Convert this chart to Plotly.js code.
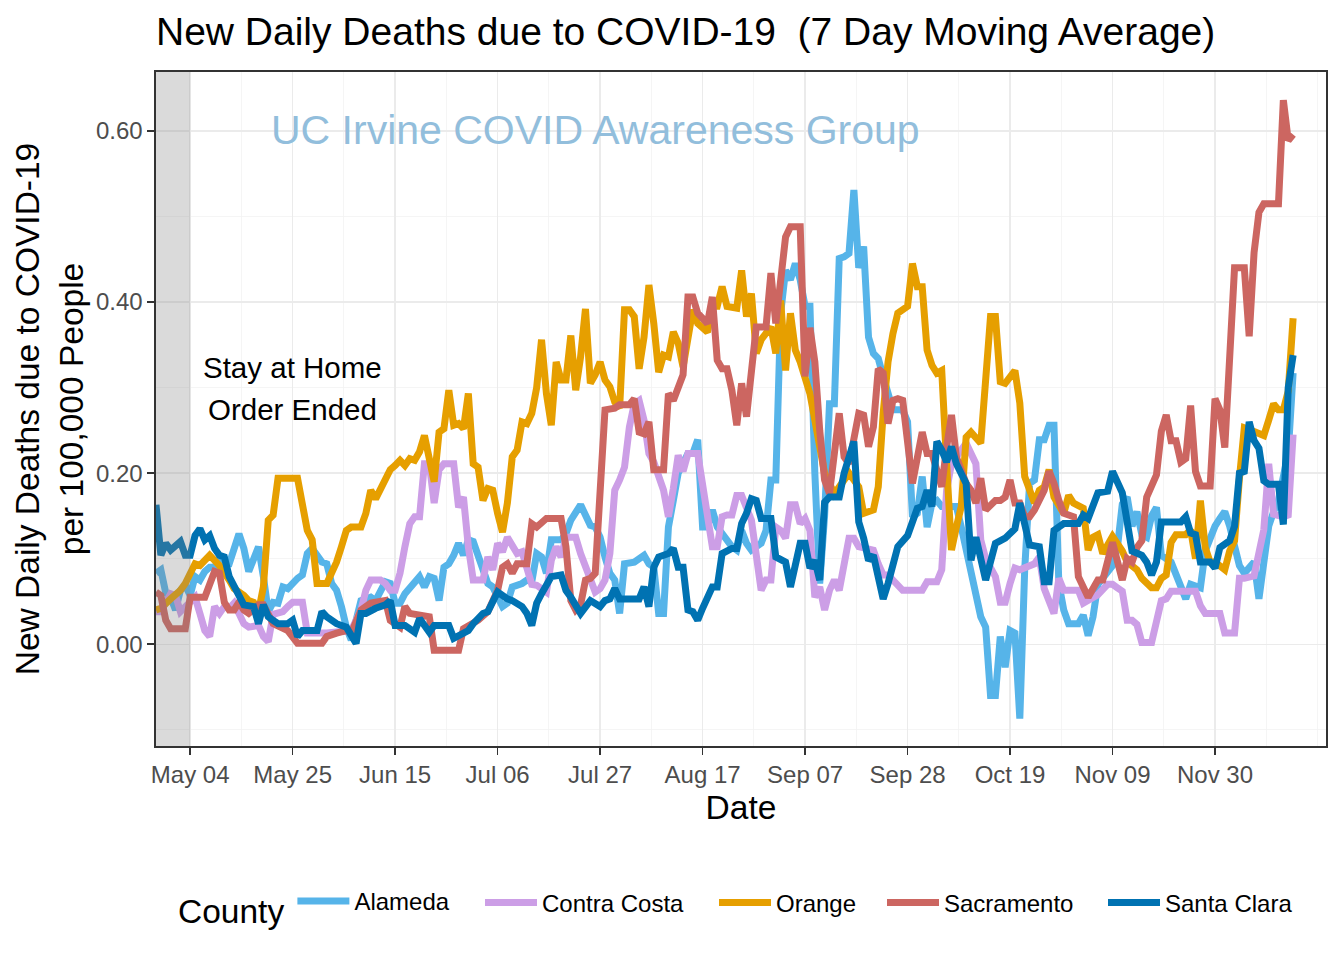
<!DOCTYPE html>
<html>
<head>
<meta charset="utf-8">
<script src="https://cdn.plot.ly/plotly-3.0.1.min.js"></script>
<style>
html,body{margin:0;padding:0;background:#ffffff;}
#chart{width:1344px;height:960px;}
</style>
</head>
<body>
<div id="chart"></div>
<script>
// ---- data (day offsets from 2020-04-27, 7-day moving average deaths per 100k) ----
const startDate = '2020-04-27';
const counties = ['Alameda', 'Contra Costa', 'Orange', 'Sacramento', 'Santa Clara'];
const countyColors = ['#56B4E9', '#CC9EE6', '#E69F00', '#CC6661', '#0072B2'];
const xTickVals = ['2020-05-04', '2020-05-25', '2020-06-15', '2020-07-06', '2020-07-27', '2020-08-17', '2020-09-07', '2020-09-28', '2020-10-19', '2020-11-09', '2020-11-30'];
const yTickVals = [0, 0.2, 0.4, 0.6];

const alamedaDays = [0,1,2,3,4,5,6,7,8,9,10,11,12,13,14,15,17,18,19,20,21,22,23,24,25,26,27,29,30,31,32,34,35,36,37,38,39,40,41,42,44,45,47,48,49,50,51,53,54,55,56,57,58,59,60,61,62,63,64,65,66,68,69,71,72,73,75,76,77,78,79,80,81,83,84,85,87,88,89,90,91,92,93,94,95,96,97,98,100,101,102,103,104,105,106,107,109,110,111,112,113,114,115,116,118,119,120,121,122,123,124,125,126,127,128,129,130,131,132,133,134,135,136,137,138,139,140,141,142,143,144,145,146,147,148,149,150,151,153,154,155,156,157,158,159,160,161,164,165,166,167,168,169,170,171,172,173,174,175,176,177,178,179,180,181,182,183,184,185,186,187,189,190,191,192,193,195,196,197,198,199,200,201,202,203,204,205,206,208,209,211,212,214,215,216,217,218,219,220,221,222,223,225,226,227,228,229,230,232,233];
const alamedaVals = [.083,.087,.060,.055,.040,.063,.069,.057,.079,.075,.085,.090,.090,.100,.094,.094,.129,.112,.085,.098,.114,.079,.038,.049,.048,.067,.065,.077,.081,.106,.112,.096,.094,.071,.063,.044,.020,.005,.030,.051,.055,.051,.073,.071,.048,.048,.059,.071,.079,.067,.079,.077,.051,.090,.094,.104,.118,.104,.122,.120,.104,.071,.067,.044,.048,.067,.071,.075,.073,.106,.102,.083,.122,.122,.129,.145,.163,.149,.139,.137,.125,.102,.083,.075,.036,.094,.096,.096,.104,.094,.090,.036,.036,.137,.168,.200,.223,.223,.239,.137,.137,.157,.137,.129,.114,.110,.133,.118,.110,.114,.118,.133,.192,.192,.387,.437,.426,.445,.426,.395,.395,.200,.071,.150,.281,.281,.451,.453,.457,.531,.440,.465,.359,.340,.334,.313,.293,.274,.274,.260,.149,.153,.196,.137,.165,.168,.161,.161,.137,.110,.079,.055,.032,.020,-.060,-.060,.009,-.027,.016,.013,-.087,.087,.188,.192,.239,.239,.256,.256,.071,.040,.024,.024,.034,.010,.032,.070,.087,.092,.113,.164,.172,.138,.155,.128,.125,.150,.160,.104,.096,.083,.053,.070,.066,.109,.126,.138,.147,.155,.138,.113,.092,.083,.096,.053,.104,.138,.155,.168,.224,.317];

const contraCostaDays = [0,1,3,4,5,7,8,9,10,11,12,13,14,15,16,17,18,19,21,22,23,24,26,27,28,30,31,35,38,40,42,43,44,46,47,48,49,50,51,52,53,54,55,56,57,58,59,61,62,63,64,65,67,68,69,70,71,72,74,75,77,78,80,81,82,83,84,86,87,89,90,91,92,93,94,95,96,97,98,99,100,101,102,104,105,106,107,108,109,111,112,113,114,115,116,117,118,119,120,122,123,124,125,126,127,128,129,130,131,132,133,134,135,136,137,138,139,140,142,143,144,146,147,148,149,150,151,153,157,158,160,161,162,163,164,166,168,169,170,172,173,174,175,176,177,179,180,181,182,184,185,186,189,190,192,193,195,196,197,198,199,200,201,202,204,205,206,207,208,213,214,215,218,219,221,222,223,225,226,227,228,229,231,232,233];
const contraCostaVals = [.038,.038,.059,.057,.038,.049,.055,.036,.016,.009,.044,.036,.044,.042,.048,.036,.024,.020,.022,.009,.003,.035,.038,.044,.049,.049,.013,.013,.016,.016,.040,.063,.075,.075,.071,.063,.063,.083,.114,.141,.149,.149,.211,.211,.165,.204,.211,.211,.160,.172,.114,.075,.075,.102,.087,.118,.108,.125,.106,.108,.070,.069,.061,.098,.114,.102,.125,.125,.106,.075,.061,.065,.075,.106,.180,.192,.207,.254,.281,.285,.262,.223,.213,.180,.149,.182,.221,.202,.223,.223,.184,.141,.114,.114,.149,.151,.151,.174,.174,.145,.098,.063,.075,.075,.137,.133,.124,.163,.163,.141,.147,.133,.055,.067,.040,.063,.075,.063,.124,.124,.114,.110,.110,.094,.081,.081,.075,.063,.063,.073,.073,.087,.180,.211,.219,.235,.211,.122,.100,.079,.049,.049,.071,.089,.087,.092,.094,.102,.065,.036,.077,.063,.063,.048,.055,.058,.070,.070,.066,.062,.028,.028,.023,.002,.002,.028,.051,.053,.062,.062,.045,.036,.036,.013,.013,.077,.077,.080,.109,.134,.211,.152,.149,.151,.245];

const orangeDays = [0,1,3,5,6,7,8,9,10,11,12,13,15,16,18,19,20,21,22,23,24,25,29,30,31,32,33,35,36,37,38,39,40,42,43,44,45,47,48,49,50,51,52,53,54,55,56,57,58,59,60,61,62,63,64,65,66,67,68,69,70,71,72,73,74,75,76,77,78,79,80,81,82,83,84,85,86,87,88,89,90,91,92,93,94,95,96,97,98,99,100,101,102,103,104,105,106,107,108,109,110,111,112,113,114,115,116,117,119,120,121,122,123,124,126,127,128,129,130,131,132,134,135,136,137,139,142,144,145,147,148,149,150,151,152,154,155,156,157,158,159,160,161,162,163,164,165,166,167,169,170,171,172,173,174,176,177,178,180,181,182,183,184,186,187,188,190,191,192,193,194,195,196,198,199,201,202,204,205,206,207,208,209,211,212,213,214,215,216,217,219,220,221,222,223,224,226,227,228,229,230,231,232,233];
const orangeVals = [.040,.042,.053,.063,.071,.083,.094,.092,.098,.104,.098,.092,.075,.065,.057,.051,.049,.038,.067,.145,.151,.194,.194,.168,.133,.122,.071,.071,.083,.096,.114,.133,.137,.137,.153,.180,.170,.196,.204,.209,.215,.209,.217,.215,.225,.244,.215,.190,.248,.252,.297,.256,.258,.252,.293,.211,.207,.168,.182,.180,.153,.131,.165,.219,.227,.260,.258,.270,.300,.356,.293,.256,.330,.309,.309,.361,.297,.336,.392,.305,.315,.330,.309,.301,.283,.276,.391,.391,.383,.322,.359,.420,.375,.318,.338,.336,.365,.352,.324,.363,.391,.375,.371,.365,.395,.395,.418,.395,.393,.437,.383,.410,.340,.356,.371,.340,.402,.320,.387,.344,.330,.293,.262,.231,.200,.176,.200,.184,.153,.157,.184,.270,.330,.363,.387,.395,.445,.418,.418,.344,.326,.317,.320,.211,.110,.137,.161,.242,.248,.235,.313,.383,.383,.307,.305,.320,.282,.196,.165,.180,.184,.204,.172,.153,.174,.165,.159,.110,.125,.128,.106,.115,.126,.109,.096,.087,.077,.066,.066,.077,.081,.119,.128,.128,.134,.100,.168,.113,.096,.096,.087,.109,.121,.194,.253,.251,.247,.244,.262,.281,.274,.274,.296,.381];

const sacramentoDays = [0,1,2,3,6,7,10,11,12,13,14,15,16,17,18,19,21,22,24,27,29,34,35,37,39,40,42,44,47,48,50,51,52,56,57,62,63,66,68,70,71,72,73,74,76,77,78,80,83,84,85,86,87,88,89,90,91,92,94,95,97,98,99,100,101,102,104,105,106,107,108,109,110,111,113,114,115,116,117,118,119,120,121,123,125,126,127,129,130,132,133,134,135,136,137,138,139,140,141,142,143,144,145,146,147,148,149,150,151,152,153,154,155,157,158,159,161,162,163,164,165,166,167,168,169,170,172,173,174,175,176,177,178,179,180,182,183,184,185,186,187,188,189,190,191,193,194,196,197,198,199,200,201,202,203,205,206,207,208,209,210,211,212,213,214,216,217,218,219,221,223,224,225,226,227,230,231,232,233];
const sacramentoVals = [.061,.057,.028,.018,.018,.055,.055,.071,.085,.083,.049,.040,.040,.049,.040,.036,.046,.046,.024,.016,.001,.001,.009,.013,.016,.013,.040,.048,.051,.028,.020,.044,.036,.032,-.007,-.007,.018,.028,.038,.063,.090,.094,.083,.094,.094,.141,.137,.147,.147,.114,.051,.040,.046,.075,.077,.083,.176,.274,.276,.280,.280,.287,.248,.246,.260,.204,.204,.293,.285,.303,.315,.406,.406,.387,.375,.406,.332,.322,.322,.297,.256,.305,.266,.371,.371,.434,.375,.476,.488,.488,.313,.370,.330,.250,.192,.176,.227,.270,.219,.211,.240,.270,.268,.231,.254,.322,.317,.258,.285,.287,.285,.242,.188,.248,.223,.223,.184,.230,.268,.219,.200,.188,.180,.165,.194,.157,.168,.168,.172,.192,.165,.165,.149,.149,.157,.180,.202,.188,.168,.153,.151,.149,.079,.067,.055,.075,.075,.119,.094,.075,.100,.096,.113,.121,.172,.198,.249,.268,.238,.238,.213,.217,.279,.202,.185,.185,.287,.274,.230,.440,.440,.360,.458,.505,.515,.515,.636,.589,.596];

const santaClaraDays = [0,1,2,3,5,6,7,8,9,10,11,12,13,14,15,16,17,18,20,21,22,23,24,25,27,28,29,30,33,34,35,37,39,41,42,43,45,47,48,49,51,53,54,56,57,60,61,63,64,65,67,68,69,70,72,73,75,76,77,78,79,81,83,84,85,87,89,91,92,93,94,95,99,100,101,102,103,105,106,107,108,109,110,111,112,114,115,116,118,119,120,121,122,123,124,126,127,129,130,132,133,134,135,136,137,138,140,141,143,144,145,146,147,149,150,152,154,156,157,158,159,160,161,162,163,164,166,167,168,170,172,174,176,177,179,180,181,182,183,184,186,189,190,191,193,195,196,198,199,200,202,203,204,205,206,210,211,212,213,214,216,217,218,220,221,222,223,224,225,226,227,228,230,231,232,233];
const santaClaraVals = [.163,.104,.118,.110,.120,.104,.104,.127,.135,.122,.127,.112,.104,.102,.079,.067,.057,.046,.044,.024,.046,.032,.028,.024,.024,.028,.009,.016,.016,.038,.032,.024,.020,.001,.036,.036,.042,.046,.051,.022,.022,.014,.030,.014,.022,.022,.007,.013,.016,.024,.036,.038,.048,.061,.053,.051,.044,.036,.022,.048,.059,.079,.081,.063,.055,.036,.051,.044,.051,.053,.065,.053,.053,.067,.044,.090,.102,.106,.112,.090,.090,.040,.038,.028,.042,.067,.067,.106,.112,.112,.141,.153,.170,.168,.147,.147,.102,.096,.067,.118,.118,.089,.098,.075,.166,.172,.172,.200,.237,.143,.124,.098,.104,.053,.071,.114,.127,.159,.161,.180,.161,.237,.227,.213,.231,.211,.188,.098,.125,.075,.118,.124,.135,.165,.116,.114,.114,.073,.073,.133,.141,.141,.151,.147,.177,.179,.202,.177,.138,.109,.104,.096,.081,.096,.143,.143,.149,.130,.128,.096,.096,.089,.113,.121,.138,.200,.202,.260,.238,.229,.191,.187,.187,.140,.300,.338];

const seriesDays = [alamedaDays, contraCostaDays, orangeDays, sacramentoDays, santaClaraDays];
const seriesVals = [alamedaVals, contraCostaVals, orangeVals, sacramentoVals, santaClaraVals];

// ---- helpers ----
const DAY = 86400000;
const startMs = Date.parse(startDate + 'T00:00:00Z');
function toDate(d) { return new Date(startMs + d * DAY).toISOString().slice(0, 10); }

const FONT = 'Liberation Sans, Arial, Helvetica, sans-serif';
const legendIds = ['legend', 'legend2', 'legend3', 'legend4', 'legend5'];

const traces = counties.map((name, i) => ({
  type: 'scatter',
  mode: 'lines',
  name: name,
  legend: legendIds[i],
  x: seriesDays[i].map(toDate),
  y: seriesVals[i],
  line: {color: countyColors[i], width: 7},
  hoverinfo: 'skip'
}));

// legend placement (one legend per county entry, laid out in a row like the original)
const W = 1344, H = 960, PL = 156, PR = 18, PT = 72, PB = 214;
const plotW = W - PL - PR, plotH = H - PT - PB;
function px2paperX(px) { return (px - PL) / plotW; }
function px2paperY(py) { return (H - PB - py) / plotH; }
const legendBoxLeft = [176, 480, 714, 882, 1103];
const legendRowY = 903;

const layout = {
  width: W,
  height: H,
  margin: {l: PL, r: PR, t: PT, b: PB},
  paper_bgcolor: '#ffffff',
  plot_bgcolor: '#ffffff',
  font: {family: FONT, color: '#000000'},
  showlegend: true,
  title: {
    text: 'New Daily Deaths due to COVID-19\u00A0 (7 Day Moving Average)',
    font: {family: FONT, size: 39, color: '#000000'},
    xref: 'paper', x: 0, xanchor: 'left',
    yref: 'container', y: 1 - 31 / H, yanchor: 'middle'
  },
  xaxis: {
    type: 'date',
    range: ['2020-04-27', '2020-12-22 17:45'],
    tickmode: 'array',
    tickvals: xTickVals,
    tickformat: '%b %d',
    ticks: 'outside', ticklen: 7, tickwidth: 1.6, tickcolor: '#333333',
    tickfont: {family: FONT, size: 24, color: '#4D4D4D'},
    showline: true, linecolor: '#333333', linewidth: 1.6, mirror: true,
    showgrid: true, gridcolor: '#EBEBEB', gridwidth: 1.4,
    zeroline: false,
    minor: {tickmode: 'linear', dtick: 10.5 * DAY, tick0: xTickVals[0], showgrid: true, gridcolor: '#F2F2F2', gridwidth: 0.8, ticks: ''},
    title: {text: 'Date', font: {family: FONT, size: 33.5, color: '#000000'}, standoff: 8}
  },
  yaxis: {
    range: [-0.119, 0.669],
    tickmode: 'array',
    tickvals: yTickVals,
    tickformat: '.2f',
    ticks: 'outside', ticklen: 7, tickwidth: 1.6, tickcolor: '#333333',
    tickfont: {family: FONT, size: 24, color: '#4D4D4D'},
    showline: true, linecolor: '#333333', linewidth: 1.6, mirror: true,
    showgrid: true, gridcolor: '#EBEBEB', gridwidth: 1.4,
    zeroline: false,
    minor: {tickmode: 'linear', dtick: 0.1, tick0: 0, showgrid: true, gridcolor: '#F2F2F2', gridwidth: 0.8, ticks: ''},
    title: {text: 'New Daily Deaths due to COVID-19<br>per 100,000 People', font: {family: FONT, size: 33.5, color: '#000000'}, standoff: 2}
  },
  shapes: [{
    type: 'rect', xref: 'x', yref: 'paper',
    x0: '2020-04-27', x1: xTickVals[0], y0: 0, y1: 1,
    fillcolor: 'rgba(127,127,127,0.29)', line: {width: 0}, layer: 'above'
  }],
  annotations: [
    {text: 'Stay at Home', xref: 'x', yref: 'y', x: xTickVals[1], y: 0.323, showarrow: false,
     font: {family: FONT, size: 29.5, color: '#000000'}, xanchor: 'center', yanchor: 'middle'},
    {text: 'Order Ended', xref: 'x', yref: 'y', x: xTickVals[1], y: 0.274, showarrow: false,
     font: {family: FONT, size: 29.5, color: '#000000'}, xanchor: 'center', yanchor: 'middle'},
    {text: 'UC Irvine COVID Awareness Group', xref: 'paper', yref: 'y', x: px2paperX(595), y: 0.601,
     showarrow: false, font: {family: FONT, size: 41, color: '#92BEDC'}, xanchor: 'center', yanchor: 'middle'}
  ]
};

legendIds.forEach((id, i) => {
  const lg = {
    orientation: 'h',
    x: px2paperX(legendBoxLeft[i]), xanchor: 'left',
    y: px2paperY(i === 0 ? legendRowY + 3 : legendRowY), yanchor: 'middle',
    font: {family: FONT, size: 24, color: '#000000'},
    itemwidth: 52,
    bgcolor: 'rgba(0,0,0,0)',
    borderwidth: 0
  };
  if (i === 0) {
    lg.title = {text: 'County', font: {family: FONT, size: 33.5, color: '#000000'}, side: 'left'};
  }
  layout[id] = lg;
});

Plotly.newPlot('chart', traces, layout, {staticPlot: true, displayModeBar: false});
</script>
</body>
</html>
